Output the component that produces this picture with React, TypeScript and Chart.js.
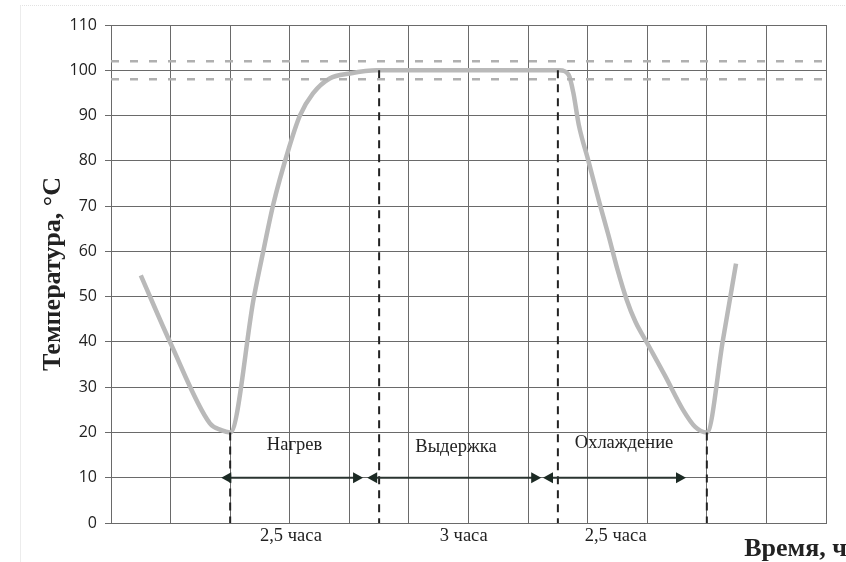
import React, { useEffect, useRef } from "react";
import { Chart, registerables } from "chart.js";

Chart.register(...registerables);

// Temperature curve (time in hours, temperature in °C)
const curveTime = [0.5, 1.0, 1.66, 1.85, 2.0, 2.4, 2.56, 2.72, 2.99, 3.17, 3.39, 3.67, 4.01, 4.46, 7.53, 7.68, 7.76, 7.85, 8.01, 8.2, 8.35, 8.5, 8.65, 8.8, 9.0, 9.3, 9.6, 9.8, 10.0, 10.27, 10.49];
const curveTemp = [54.7, 39.7, 22, 20.5, 20, 50, 60.3, 70.2, 83, 90, 94.9, 98.2, 99.3, 100, 100, 99, 95, 88, 80.1, 70.6, 63.5, 56, 49.5, 44.5, 39.7, 32.5, 25, 21.3, 20, 40.4, 57.3];

// Tolerance band (dashed horizontal lines)
const bandLevels = [102, 98];
const bandRange = [0, 12];

// Phase boundary markers (vertical dashed lines)
const markerTimes = [2, 4.5, 7.5, 10];
const markerTops = [20, 100, 100, 20];

// Phase arrows at 10 °C
const arrowLevel = 10;
const arrowStarts = [1.85, 4.3, 7.25];
const arrowEnds = [4.23, 7.22, 9.65];

// Phase labels
const phaseLabels = ["Нагрев", "Выдержка", "Охлаждение"];
const phaseLabelTimes = [3.08, 5.79, 8.61];
const phaseLabelTemps = [17.2, 16.8, 17.7];

// Duration labels below axis
const durationLabels = ["2,5 часа", "3 часа", "2,5 часа"];
const durationTimes = [3.02, 5.92, 8.47];

const xTitle = "Время, ч";
const yTitle = "Температура, °С";
const yMin = 0;
const yMax = 110;
const yStep = 10;
const xMin = 0;
const xMax = 12;

const annotPlugin = {
  id: "annot",
  afterDatasetsDraw(chart: any) {
    const ctx = chart.ctx;
    const xs = chart.scales.x;
    const ys = chart.scales.y;
    const area = chart.chartArea;
    ctx.save();
    // arrows
    const ay = ys.getPixelForValue(arrowLevel);
    ctx.strokeStyle = "#2a3430";
    ctx.fillStyle = "#1c2a24";
    ctx.lineWidth = 2;
    for (let i = 0; i < arrowStarts.length; i++) {
      const x1 = xs.getPixelForValue(arrowStarts[i]);
      const x2 = xs.getPixelForValue(arrowEnds[i]);
      ctx.beginPath();
      ctx.moveTo(x1 + 6, ay);
      ctx.lineTo(x2 - 6, ay);
      ctx.stroke();
      ctx.beginPath();
      ctx.moveTo(x1, ay);
      ctx.lineTo(x1 + 10, ay - 5.5);
      ctx.lineTo(x1 + 10, ay + 5.5);
      ctx.closePath();
      ctx.fill();
      ctx.beginPath();
      ctx.moveTo(x2, ay);
      ctx.lineTo(x2 - 10, ay - 5.5);
      ctx.lineTo(x2 - 10, ay + 5.5);
      ctx.closePath();
      ctx.fill();
    }
    // phase labels
    ctx.fillStyle = "#222";
    ctx.font = '18.5px "Liberation Serif"';
    ctx.textAlign = "center";
    ctx.textBaseline = "middle";
    for (let i = 0; i < phaseLabels.length; i++) {
      ctx.fillText(phaseLabels[i], xs.getPixelForValue(phaseLabelTimes[i]), ys.getPixelForValue(phaseLabelTemps[i]));
    }
    for (let i = 0; i < durationLabels.length; i++) {
      ctx.fillText(durationLabels[i], xs.getPixelForValue(durationTimes[i]), area.bottom + 13);
    }
    ctx.font = 'bold 26px "Liberation Serif"';
    ctx.textAlign = "right";
    ctx.fillText(xTitle, chart.width + 1, area.bottom + 26);
    ctx.restore();
  },
};

export default function App() {
  const ref = useRef<HTMLCanvasElement | null>(null);
  useEffect(() => {
    if (!ref.current) return;
    const curve = curveTime.map((t, i) => ({ x: t, y: curveTemp[i] }));
    const bandSets = bandLevels.map((lvl) => ({
      data: bandRange.map((t) => ({ x: t, y: lvl })),
      borderColor: "#b0b0b0",
      borderWidth: 2.5,
      borderDash: [8, 11],
      pointRadius: 0,
      tension: 0,
    }));
    const markerSets = markerTimes.map((t, i) => ({
      data: [
        { x: t, y: markerTops[i] },
        { x: t, y: yMin },
      ],
      borderColor: "#222",
      borderWidth: 2,
      borderDash: [8, 6],
      pointRadius: 0,
      tension: 0,
    }));
    const chart = new Chart(ref.current, {
      type: "line",
      data: {
        datasets: [
          ...bandSets,
          ...markerSets,
          {
            data: curve,
            borderColor: "#b9b9b9",
            borderWidth: 4.5,
            pointRadius: 0,
            cubicInterpolationMode: "monotone",
          },
        ] as any,
      },
      options: {
        animation: false,
        responsive: false,
        parsing: false as any,
        layout: { padding: { left: 0, top: 25, right: 20, bottom: 39 } },
        plugins: { legend: { display: false }, tooltip: { enabled: false } },
        scales: {
          x: {
            type: "linear",
            min: xMin,
            max: xMax,
            ticks: { display: false, stepSize: 1 },
            grid: { color: "#6a6a6a", lineWidth: 1, drawTicks: false },
            border: { color: "#6a6a6a" },
            afterFit: (s: any) => {
              s.height = 0;
            },
          },
          y: {
            type: "linear",
            min: yMin,
            max: yMax,
            ticks: {
              stepSize: yStep,
              color: "#222",
              padding: 8,
              font: { family: '"Open Sans"', size: 16 },
            },
            grid: { color: "#6a6a6a", lineWidth: 1, tickLength: 6 },
            border: { color: "#6a6a6a" },
            title: {
              display: true,
              text: yTitle,
              color: "#222",
              font: { family: '"Liberation Serif"', size: 26, weight: "bold" },
              padding: { top: 38, bottom: 0 },
            },
            afterFit: (s: any) => {
              s.width = 111;
            },
          },
        },
      },
      plugins: [annotPlugin],
    });
    return () => chart.destroy();
  }, []);
  return (
    <div style={{ position: "absolute", left: 0, top: 0, width: 846, height: 562, background: "#fff" }}>
      <div
        style={{
          position: "absolute",
          left: 20,
          top: 5,
          width: 826,
          height: 557,
          borderLeft: "1px solid #ececec",
          borderTop: "1px dotted #e2e2e2",
        }}
      />
      <canvas ref={ref} width={846} height={562} style={{ position: "absolute", left: 0, top: 0 }} />
    </div>
  );
}
